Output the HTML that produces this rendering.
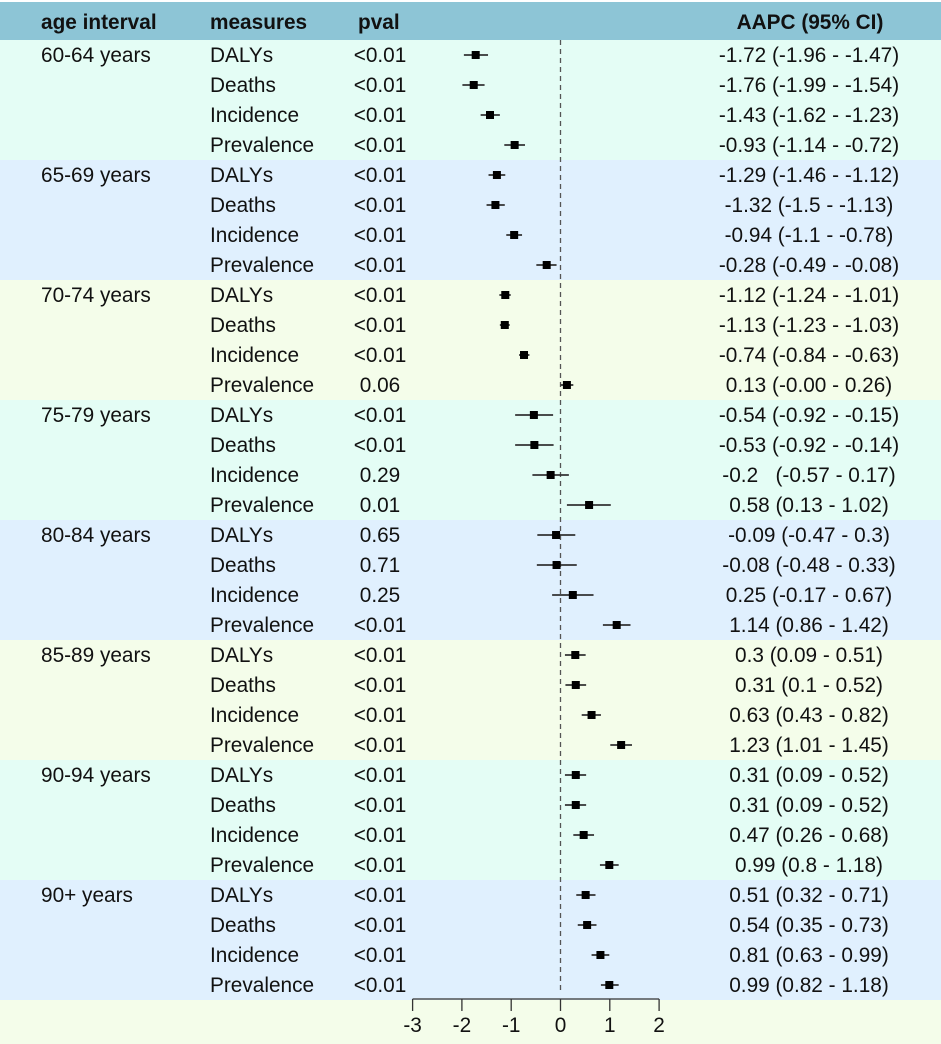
<!DOCTYPE html>
<html><head><meta charset="utf-8">
<style>
html,body{margin:0;padding:0;background:#fff;}
svg{display:block;font-family:"Liberation Sans",Arial,sans-serif;}
</style></head>
<body>
<svg id="chart" width="941" height="1044" viewBox="0 0 941 1044" xmlns="http://www.w3.org/2000/svg">
<rect x="0" y="0" width="941" height="1044" fill="#ffffff"/>
<g id="bands"></g>
<rect x="0" y="2" width="941" height="38" fill="#8dc5d6"/>
<g font-weight="bold" font-size="20.8" fill="#111">
<text x="41" y="29">age interval</text>
<text x="210" y="29">measures</text>
<text x="358" y="29">pval</text>
<text x="810" y="29" text-anchor="middle">AAPC (95% CI)</text>
</g>
<g id="rows"></g>
<g id="marks"></g>
<g id="axis"></g>
</svg>
<script>
const groups = ["60-64 years","65-69 years","70-74 years","75-79 years","80-84 years","85-89 years","90-94 years","90+ years"];
const measures = ["DALYs","Deaths","Incidence","Prevalence"];
const aapc = [-1.72,-1.76,-1.43,-0.93, -1.29,-1.32,-0.94,-0.28, -1.12,-1.13,-0.74,0.13, -0.54,-0.53,-0.2,0.58, -0.09,-0.08,0.25,1.14, 0.3,0.31,0.63,1.23, 0.31,0.31,0.47,0.99, 0.51,0.54,0.81,0.99];
const lower = [-1.96,-1.99,-1.62,-1.14, -1.46,-1.5,-1.1,-0.49, -1.24,-1.23,-0.84,-0.00, -0.92,-0.92,-0.57,0.13, -0.47,-0.48,-0.17,0.86, 0.09,0.1,0.43,1.01, 0.09,0.09,0.26,0.8, 0.32,0.35,0.63,0.82];
const upper = [-1.47,-1.54,-1.23,-0.72, -1.12,-1.13,-0.78,-0.08, -1.01,-1.03,-0.63,0.26, -0.15,-0.14,0.17,1.02, 0.3,0.33,0.67,1.42, 0.51,0.52,0.82,1.45, 0.52,0.52,0.68,1.18, 0.71,0.73,0.99,1.18];
const pvals = ["<0.01","<0.01","<0.01","<0.01", "<0.01","<0.01","<0.01","<0.01", "<0.01","<0.01","<0.01","0.06", "<0.01","<0.01","0.29","0.01", "0.65","0.71","0.25","<0.01", "<0.01","<0.01","<0.01","<0.01", "<0.01","<0.01","<0.01","<0.01", "<0.01","<0.01","<0.01","<0.01"];
const ciLabels = ["-1.72 (-1.96 - -1.47)","-1.76 (-1.99 - -1.54)","-1.43 (-1.62 - -1.23)","-0.93 (-1.14 - -0.72)","-1.29 (-1.46 - -1.12)","-1.32 (-1.5 - -1.13)","-0.94 (-1.1 - -0.78)","-0.28 (-0.49 - -0.08)","-1.12 (-1.24 - -1.01)","-1.13 (-1.23 - -1.03)","-0.74 (-0.84 - -0.63)","0.13 (-0.00 - 0.26)","-0.54 (-0.92 - -0.15)","-0.53 (-0.92 - -0.14)","-0.2   (-0.57 - 0.17)","0.58 (0.13 - 1.02)","-0.09 (-0.47 - 0.3)","-0.08 (-0.48 - 0.33)","0.25 (-0.17 - 0.67)","1.14 (0.86 - 1.42)","0.3 (0.09 - 0.51)","0.31 (0.1 - 0.52)","0.63 (0.43 - 0.82)","1.23 (1.01 - 1.45)","0.31 (0.09 - 0.52)","0.31 (0.09 - 0.52)","0.47 (0.26 - 0.68)","0.99 (0.8 - 1.18)","0.51 (0.32 - 0.71)","0.54 (0.35 - 0.73)","0.81 (0.63 - 0.99)","0.99 (0.82 - 1.18)"];
const xTicks = [-3,-2,-1,0,1,2];

const NS="http://www.w3.org/2000/svg";
const X0=560.5, XS=49.3, TOP=40, RH=30, FS=20.8;
function xScale(v){return X0+v*XS;}
function yRow(i){return TOP+RH*i+RH/2;}
function mk(tag,attrs,parent){const e=document.createElementNS(NS,tag);for(const k in attrs)e.setAttribute(k,attrs[k]);parent.appendChild(e);return e;}
const bandColors=["#e4fdf5","#e0f0fe","#f4fdea"];
const bands=document.getElementById('bands'), rows=document.getElementById('rows'), marks=document.getElementById('marks'), axis=document.getElementById('axis');
const nRows=groups.length*measures.length;
groups.forEach((g,gi)=>{
  const b=mk('rect',{x:0,y:TOP+gi*RH*4,width:941,height:RH*4,fill:bandColors[gi%3]},bands);
  
  
  const t=mk('text',{x:41,y:yRow(gi*4)+7,'font-size':FS,fill:'#111'},rows);
  t.textContent=g;
  
  
});
const foot=mk('rect',{x:0,y:TOP+nRows*RH,width:941,height:1044-(TOP+nRows*RH),fill:"#f4fdea"},bands);


const zl=mk('line',{x1:xScale(0),x2:xScale(0),y1:TOP,y2:TOP+nRows*RH-8,stroke:'#555','stroke-width':1.3,'stroke-dasharray':'5,4'},marks);


for(let i=0;i<nRows;i++){
  const y=yRow(i);
  const m=mk('text',{x:210,y:y+7,'font-size':FS,fill:'#111'},rows);
  m.textContent=measures[i%4];
  
  
  const p=mk('text',{x:380,y:y+7,'font-size':FS,fill:'#111','text-anchor':'middle'},rows);
  p.textContent=pvals[i];
  
  
  const c=mk('text',{x:809,y:y+7,'font-size':FS,fill:'#111','text-anchor':'middle'},rows);
  c.setAttribute('xml:space','preserve');
  c.style.whiteSpace='pre';
  c.textContent=ciLabels[i];
  
  
  const l=mk('line',{x1:xScale(lower[i]),x2:xScale(upper[i]),y1:y,y2:y,stroke:'#333','stroke-width':1.8},marks);
  
  
  const s=mk('rect',{x:xScale(aapc[i])-4,y:y-4,width:8,height:8,fill:'#000'},marks);
  
  
}
const ay=TOP+nRows*RH-1;
const al=mk('line',{x1:xScale(xTicks[0]),x2:xScale(xTicks[xTicks.length-1]),y1:ay,y2:ay,stroke:'#333','stroke-width':1.3},axis);


xTicks.forEach(v=>{
  const tk=mk('line',{x1:xScale(v),x2:xScale(v),y1:ay,y2:ay+12,stroke:'#333','stroke-width':1.3},axis);
  
  
  const tl=mk('text',{x:xScale(v),y:ay+33,'font-size':FS,fill:'#111','text-anchor':'middle'},axis);
  tl.textContent=String(v);
  
  
});
</script>
</body></html>
